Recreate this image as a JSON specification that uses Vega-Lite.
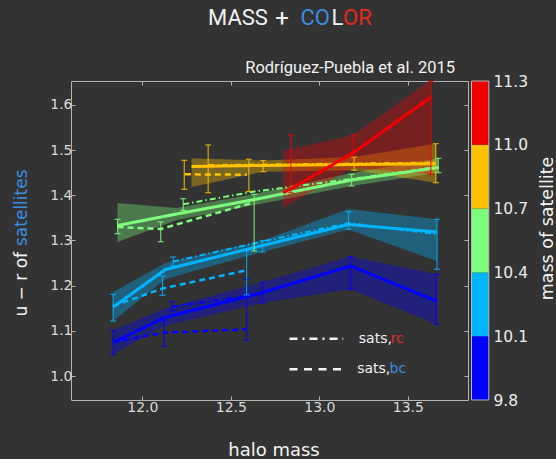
{
  "$schema": "https://vega.github.io/schema/vega-lite/v6.json",
  "width": 397,
  "height": 319,
  "padding": {"left": 12, "top": 6, "right": 0, "bottom": 0},
  "background": "#333333",
  "config": {"view": {"stroke": "#b4b4b4", "strokeWidth": 1}, "font": "DejaVu Sans"},
  "datasets": {
    "all": [
      {"m": "9.8-10.1", "x": 11.835, "y": 1.0743}, {"m": "9.8-10.1", "x": 12.125, "y": 1.1296}, {"m": "9.8-10.1", "x": 12.679, "y": 1.1849}, {"m": "9.8-10.1", "x": 13.175, "y": 1.2436}, {"m": "9.8-10.1", "x": 13.662, "y": 1.1661},
      {"m": "10.1-10.4", "x": 11.835, "y": 1.1528}, {"m": "10.1-10.4", "x": 12.131, "y": 1.2358}, {"m": "10.1-10.4", "x": 12.679, "y": 1.2889}, {"m": "10.1-10.4", "x": 13.165, "y": 1.3354}, {"m": "10.1-10.4", "x": 13.665, "y": 1.3188},
      {"m": "10.4-10.7", "x": 11.86, "y": 1.3332}, {"m": "10.4-10.7", "x": 12.193, "y": 1.3587}, {"m": "10.4-10.7", "x": 12.634, "y": 1.3908}, {"m": "10.4-10.7", "x": 13.182, "y": 1.4339}, {"m": "10.4-10.7", "x": 13.672, "y": 1.4616},
      {"m": "10.7-11.0", "x": 12.278, "y": 1.4638}, {"m": "10.7-11.0", "x": 12.683, "y": 1.466}, {"m": "10.7-11.0", "x": 13.197, "y": 1.4682}, {"m": "10.7-11.0", "x": 13.658, "y": 1.47},
      {"m": "11.0-11.3", "x": 12.796, "y": 1.4051}, {"m": "11.0-11.3", "x": 13.191, "y": 1.4943}, {"m": "11.0-11.3", "x": 13.63, "y": 1.6176}
    ],
    "bands": [
      {"m": "9.8-10.1", "x": 11.835, "lo": 1.048, "hi": 1.101}, {"m": "9.8-10.1", "x": 12.125, "lo": 1.1108, "hi": 1.1495}, {"m": "9.8-10.1", "x": 12.679, "lo": 1.1617, "hi": 1.2082}, {"m": "9.8-10.1", "x": 13.175, "lo": 1.192, "hi": 1.2646}, {"m": "9.8-10.1", "x": 13.662, "lo": 1.1145, "hi": 1.2252},
      {"m": "10.1-10.4", "x": 11.835, "lo": 1.1218, "hi": 1.186}, {"m": "10.1-10.4", "x": 12.131, "lo": 1.2148, "hi": 1.2502}, {"m": "10.1-10.4", "x": 12.679, "lo": 1.2746, "hi": 1.3}, {"m": "10.1-10.4", "x": 13.165, "lo": 1.3244, "hi": 1.3697}, {"m": "10.1-10.4", "x": 13.665, "lo": 1.2546, "hi": 1.3469},
      {"m": "10.4-10.7", "x": 11.86, "lo": 1.2967, "hi": 1.383}, {"m": "10.4-10.7", "x": 12.193, "lo": 1.3454, "hi": 1.3719}, {"m": "10.4-10.7", "x": 12.634, "lo": 1.3786, "hi": 1.4029}, {"m": "10.4-10.7", "x": 13.182, "lo": 1.4206, "hi": 1.4494}, {"m": "10.4-10.7", "x": 13.672, "lo": 1.4501, "hi": 1.4819},
      {"m": "10.7-11.0", "x": 12.278, "lo": 1.4184, "hi": 1.4819}, {"m": "10.7-11.0", "x": 12.683, "lo": 1.4523, "hi": 1.477}, {"m": "10.7-11.0", "x": 13.197, "lo": 1.4554, "hi": 1.4848}, {"m": "10.7-11.0", "x": 13.658, "lo": 1.4279, "hi": 1.5143},
      {"m": "11.0-11.3", "x": 12.796, "lo": 1.3726, "hi": 1.4981}, {"m": "11.0-11.3", "x": 13.191, "lo": 1.4611, "hi": 1.5335}, {"m": "11.0-11.3", "x": 13.63, "lo": 1.4465, "hi": 1.655}
    ],
    "rc": [
      {"m": "9.8-10.1", "x": 12.169, "y": 1.1539}, {"m": "9.8-10.1", "x": 12.589, "y": 1.1772}, {"m": "9.8-10.1", "x": 12.679, "y": 1.1849}, {"m": "9.8-10.1", "x": 13.175, "y": 1.2436}, {"m": "9.8-10.1", "x": 13.662, "y": 1.1661},
      {"m": "10.1-10.4", "x": 12.174, "y": 1.2535}, {"m": "10.1-10.4", "x": 12.679, "y": 1.2978}, {"m": "10.1-10.4", "x": 13.165, "y": 1.3387}, {"m": "10.1-10.4", "x": 13.665, "y": 1.3137},
      {"m": "10.4-10.7", "x": 12.231, "y": 1.3801}, {"m": "10.4-10.7", "x": 12.634, "y": 1.4085}, {"m": "10.4-10.7", "x": 13.182, "y": 1.436}, {"m": "10.4-10.7", "x": 13.672, "y": 1.463},
      {"m": "10.7-11.0", "x": 12.372, "y": 1.4671}, {"m": "10.7-11.0", "x": 12.683, "y": 1.4682}, {"m": "10.7-11.0", "x": 13.197, "y": 1.4704}, {"m": "10.7-11.0", "x": 13.658, "y": 1.4725},
      {"m": "11.0-11.3", "x": 12.796, "y": 1.4029}, {"m": "11.0-11.3", "x": 13.191, "y": 1.492}, {"m": "11.0-11.3", "x": 13.63, "y": 1.615}
    ],
    "bc": [
      {"m": "9.8-10.1", "x": 11.835, "y": 1.0754}, {"m": "9.8-10.1", "x": 12.124, "y": 1.096}, {"m": "9.8-10.1", "x": 12.589, "y": 1.1035},
      {"m": "10.1-10.4", "x": 11.835, "y": 1.155}, {"m": "10.1-10.4", "x": 12.114, "y": 1.1938}, {"m": "10.1-10.4", "x": 12.589, "y": 1.234},
      {"m": "10.4-10.7", "x": 11.86, "y": 1.3299}, {"m": "10.4-10.7", "x": 12.104, "y": 1.3255}, {"m": "10.4-10.7", "x": 12.628, "y": 1.3841},
      {"m": "10.7-11.0", "x": 12.24, "y": 1.4465}, {"m": "10.7-11.0", "x": 12.59, "y": 1.4456}
    ],
    "err": [
      {"m": "9.8-10.1", "x": 11.835, "lo": 1.048, "hi": 1.101}, {"m": "9.8-10.1", "x": 12.124, "lo": 1.0665, "hi": 1.1234}, {"m": "9.8-10.1", "x": 12.169, "lo": 1.144, "hi": 1.1646}, {"m": "9.8-10.1", "x": 12.589, "lo": 1.0791, "hi": 1.2141}, {"m": "9.8-10.1", "x": 12.679, "lo": 1.1617, "hi": 1.2082}, {"m": "9.8-10.1", "x": 13.175, "lo": 1.192, "hi": 1.2646}, {"m": "9.8-10.1", "x": 13.662, "lo": 1.1145, "hi": 1.2252},
      {"m": "10.1-10.4", "x": 11.835, "lo": 1.1218, "hi": 1.1809}, {"m": "10.1-10.4", "x": 12.114, "lo": 1.1787, "hi": 1.2214}, {"m": "10.1-10.4", "x": 12.174, "lo": 1.2436, "hi": 1.2635}, {"m": "10.1-10.4", "x": 12.589, "lo": 1.1794, "hi": 1.2768}, {"m": "10.1-10.4", "x": 12.679, "lo": 1.2746, "hi": 1.3}, {"m": "10.1-10.4", "x": 13.165, "lo": 1.3248, "hi": 1.3637}, {"m": "10.1-10.4", "x": 13.665, "lo": 1.2363, "hi": 1.3469},
      {"m": "10.4-10.7", "x": 11.86, "lo": 1.315, "hi": 1.3469}, {"m": "10.4-10.7", "x": 12.104, "lo": 1.2973, "hi": 1.341}, {"m": "10.4-10.7", "x": 12.231, "lo": 1.3668, "hi": 1.3925}, {"m": "10.4-10.7", "x": 12.632, "lo": 1.2768, "hi": 1.4023}, {"m": "10.4-10.7", "x": 13.182, "lo": 1.4206, "hi": 1.4465}, {"m": "10.4-10.7", "x": 13.672, "lo": 1.4501, "hi": 1.4819},
      {"m": "10.7-11.0", "x": 12.237, "lo": 1.4133, "hi": 1.4775}, {"m": "10.7-11.0", "x": 12.372, "lo": 1.4058, "hi": 1.5114}, {"m": "10.7-11.0", "x": 12.602, "lo": 1.4085, "hi": 1.4797}, {"m": "10.7-11.0", "x": 12.683, "lo": 1.4523, "hi": 1.477}, {"m": "10.7-11.0", "x": 13.197, "lo": 1.4554, "hi": 1.4848}, {"m": "10.7-11.0", "x": 13.658, "lo": 1.4279, "hi": 1.5143},
      {"m": "11.0-11.3", "x": 12.839, "lo": 1.4058, "hi": 1.5335}, {"m": "11.0-11.3", "x": 13.191, "lo": 1.4848, "hi": 1.5335}, {"m": "11.0-11.3", "x": 13.63, "lo": 1.4465, "hi": 1.652}
    ],
    "cbar": [
      {"m": "9.8-10.1", "lo": 9.8, "hi": 10.1}, {"m": "10.1-10.4", "lo": 10.1, "hi": 10.4}, {"m": "10.4-10.7", "lo": 10.4, "hi": 10.7}, {"m": "10.7-11.0", "lo": 10.7, "hi": 11.0}, {"m": "11.0-11.3", "lo": 11.0, "hi": 11.3}
    ]
  },
  "layer": [
    {
      "layer": [
        {
          "data": {"name": "bands"},
          "mark": {"type": "area", "opacity": 0.35, "clip": true},
          "encoding": {
            "x": {"field": "x", "type": "quantitative", "scale": {"domain": [11.597, 13.84], "nice": false, "zero": false},
              "axis": {"orient": "bottom", "values": [12, 12.5, 13, 13.5], "format": ".1f", "title": "halo mass", "grid": false, "domain": false, "labelFlush": false,
                "labelFont": "DejaVu Sans", "labelFontSize": 14, "labelColor": "#d9d9d9", "labelPadding": 4, "tickSize": -4, "tickColor": "#b4b4b4",
                "titleFont": "DejaVu Sans", "titleFontSize": 18, "titleFontWeight": "normal", "titleColor": "#f2f2f2", "titlePadding": 27, "titleX": 202.5}},
            "y": {"field": "lo", "type": "quantitative", "stack": null, "scale": {"domain": [0.947, 1.653], "nice": false, "zero": false},
              "axis": {"orient": "left", "values": [1.0, 1.1, 1.2, 1.3, 1.4, 1.5, 1.6], "format": ".1f", "title": null, "grid": false, "domain": false,
                "labelFont": "DejaVu Sans", "labelFontSize": 14, "labelColor": "#d9d9d9", "labelPadding": 3, "tickSize": -4, "tickColor": "#b4b4b4"}},
            "y2": {"field": "hi"},
            "color": {"field": "m", "type": "nominal", "legend": null,
              "scale": {"domain": ["9.8-10.1", "10.1-10.4", "10.4-10.7", "10.7-11.0", "11.0-11.3"], "range": ["#0000ff", "#00b4ff", "#7dff7d", "#ffc200", "#f20000"]}}
          }
        },
        {
          "data": {"name": "bc"},
          "mark": {"type": "line", "strokeWidth": 2.5, "strokeDash": [6, 4], "clip": true},
          "encoding": {
            "x": {"field": "x", "type": "quantitative",
              "axis": {"orient": "top", "values": [12, 12.5, 13, 13.5], "labels": false, "title": null, "grid": false, "domain": false, "tickSize": -4, "tickColor": "#b4b4b4"}},
            "y": {"field": "y", "type": "quantitative",
              "axis": {"orient": "right", "values": [1.0, 1.1, 1.2, 1.3, 1.4, 1.5, 1.6], "labels": false, "title": null, "grid": false, "domain": false, "tickSize": -4, "tickColor": "#b4b4b4"}},
            "color": {"field": "m", "type": "nominal", "legend": null}
          }
        },
        {
          "data": {"name": "rc"},
          "mark": {"type": "line", "strokeWidth": 2, "strokeDash": [6, 3, 1.5, 3], "clip": true},
          "encoding": {
            "x": {"field": "x", "type": "quantitative", "axis": null},
            "y": {"field": "y", "type": "quantitative", "axis": null},
            "color": {"field": "m", "type": "nominal", "legend": null}
          }
        },
        {
          "data": {"name": "all"},
          "mark": {"type": "line", "strokeWidth": 3, "clip": true},
          "encoding": {
            "x": {"field": "x", "type": "quantitative", "axis": null},
            "y": {"field": "y", "type": "quantitative", "axis": null},
            "color": {"field": "m", "type": "nominal", "legend": null}
          }
        },
        {
          "data": {"name": "err"},
          "mark": {"type": "errorbar", "ticks": true, "size": 6, "thickness": 1.2, "opacity": 0.8},
          "encoding": {
            "x": {"field": "x", "type": "quantitative", "axis": null},
            "y": {"field": "lo", "type": "quantitative", "axis": null},
            "y2": {"field": "hi"},
            "color": {"field": "m", "type": "nominal", "legend": null}
          }
        },
        {
          "data": {"values": [{}]},
          "mark": {"type": "rule", "color": "#f2f2f2", "strokeWidth": 2.5, "strokeDash": [8, 5, 2, 5]},
          "encoding": {
            "x": {"datum": 12.8315, "type": "quantitative", "axis": null}, "x2": {"datum": 13.1349},
            "y": {"datum": 1.0827, "type": "quantitative", "axis": null}
          }
        },
        {
          "data": {"values": [{}]},
          "mark": {"type": "rule", "color": "#f2f2f2", "strokeWidth": 2.5, "strokeDash": [8, 6.5]},
          "encoding": {
            "x": {"datum": 12.8315, "type": "quantitative", "axis": null}, "x2": {"datum": 13.1349},
            "y": {"datum": 1.0149, "type": "quantitative", "axis": null}
          }
        },
        {
          "data": {"values": [{}]},
          "mark": {"type": "text", "text": "sats,", "font": "DejaVu Sans", "fontSize": 14, "color": "#f2f2f2", "align": "left", "baseline": "middle"},
          "encoding": {"x": {"datum": 13.2231, "type": "quantitative", "axis": null}, "y": {"datum": 1.0827, "type": "quantitative", "axis": null}}
        },
        {
          "data": {"values": [{}]},
          "mark": {"type": "text", "text": "rc", "font": "DejaVu Sans", "fontSize": 14, "color": "#e8281e", "align": "left", "baseline": "middle"},
          "encoding": {"x": {"datum": 13.4022, "type": "quantitative", "axis": null}, "y": {"datum": 1.0827, "type": "quantitative", "axis": null}}
        },
        {
          "data": {"values": [{}]},
          "mark": {"type": "text", "text": "sats,", "font": "DejaVu Sans", "fontSize": 14, "color": "#f2f2f2", "align": "left", "baseline": "middle"},
          "encoding": {"x": {"datum": 13.214, "type": "quantitative", "axis": null}, "y": {"datum": 1.0149, "type": "quantitative", "axis": null}}
        },
        {
          "data": {"values": [{}]},
          "mark": {"type": "text", "text": "bc", "font": "DejaVu Sans", "fontSize": 14, "color": "#3a8ee0", "align": "left", "baseline": "middle"},
          "encoding": {"x": {"datum": 13.3965, "type": "quantitative", "axis": null}, "y": {"datum": 1.0149, "type": "quantitative", "axis": null}}
        },
        {
          "data": {"values": [{}]},
          "mark": {"type": "text", "text": "Rodríguez-Puebla et al. 2015", "font": "Roboto", "fontSize": 16.5, "color": "#f2f2f2", "align": "right", "baseline": "alphabetic"},
          "encoding": {"x": {"datum": 13.7666, "type": "quantitative", "axis": null}, "y": {"datum": 1.6707, "type": "quantitative", "axis": null}}
        },
        {
          "data": {"values": [{}]},
          "mark": {"type": "text", "text": "MASS", "font": "Roboto", "fontSize": 22, "color": "#f2f2f2", "align": "left", "baseline": "alphabetic"},
          "encoding": {"x": {"datum": 12.371, "type": "quantitative", "axis": null}, "y": {"datum": 1.777, "type": "quantitative", "axis": null}}
        },
        {
          "data": {"values": [{}]},
          "mark": {"type": "text", "text": "+", "font": "Roboto", "fontSize": 24, "color": "#f2f2f2", "align": "left", "baseline": "alphabetic"},
          "encoding": {"x": {"datum": 12.7513, "type": "quantitative", "axis": null}, "y": {"datum": 1.7737, "type": "quantitative", "axis": null}}
        },
        {
          "data": {"values": [{}]},
          "mark": {"type": "text", "text": "CO", "font": "Roboto", "fontSize": 22, "color": "#3a8ee0", "align": "left", "baseline": "alphabetic"},
          "encoding": {"x": {"datum": 12.8937, "type": "quantitative", "axis": null}, "y": {"datum": 1.777, "type": "quantitative", "axis": null}}
        },
        {
          "data": {"values": [{}]},
          "mark": {"type": "text", "text": "L", "font": "Roboto", "fontSize": 22, "color": "#f2f2f2", "align": "left", "baseline": "alphabetic"},
          "encoding": {"x": {"datum": 13.0688, "type": "quantitative", "axis": null}, "y": {"datum": 1.777, "type": "quantitative", "axis": null}}
        },
        {
          "data": {"values": [{}]},
          "mark": {"type": "text", "text": "OR", "font": "Roboto", "fontSize": 22, "color": "#e8281e", "align": "left", "baseline": "alphabetic"},
          "encoding": {"x": {"datum": 13.1338, "type": "quantitative", "axis": null}, "y": {"datum": 1.777, "type": "quantitative", "axis": null}}
        },
        {
          "data": {"values": [{}]},
          "mark": {"type": "text", "text": "satellites", "font": "DejaVu Sans", "fontSize": 17, "color": "#3a8ee0", "align": "left", "baseline": "middle", "angle": 270},
          "encoding": {"x": {"datum": 11.3185, "type": "quantitative", "axis": null}, "y": {"datum": 1.2878, "type": "quantitative", "axis": null}}
        },
        {
          "data": {"values": [{}]},
          "mark": {"type": "text", "text": "u − r of", "font": "DejaVu Sans", "fontSize": 17, "color": "#f2f2f2", "align": "right", "baseline": "middle", "angle": 270},
          "encoding": {"x": {"datum": 11.3185, "type": "quantitative", "axis": null}, "y": {"datum": 1.2746, "type": "quantitative", "axis": null}}
        }
      ],
      "resolve": {"axis": {"x": "independent", "y": "independent"}}
    },
    {
      "layer": [
        {
          "data": {"name": "cbar"},
          "mark": {"type": "rect"},
          "encoding": {
            "x": {"datum": 13.8598, "type": "quantitative", "axis": null}, "x2": {"datum": 13.9576},
            "y": {"field": "lo", "type": "quantitative", "scale": {"domain": [9.8, 11.3], "nice": false, "zero": false},
              "axis": {"orient": "right", "offset": 21, "values": [9.8, 10.1, 10.4, 10.7, 11.0, 11.3], "format": ".1f", "ticks": false, "domain": false, "grid": false,
                "labelFont": "DejaVu Sans", "labelFontSize": 15.5, "labelColor": "#ececec", "labelPadding": 4,
                "title": "mass of satellite", "titleAngle": 270, "titleBaseline": "top", "titleY": 147, "titleFont": "DejaVu Sans", "titleFontSize": 17.5, "titleFontWeight": "normal", "titleColor": "#f2f2f2", "titlePadding": 11}},
            "y2": {"field": "hi"},
            "color": {"field": "m", "type": "nominal", "legend": null}
          }
        },
        {
          "data": {"values": [{}]},
          "mark": {"type": "rect", "fillOpacity": 0, "stroke": "#b4b4b4", "strokeWidth": 1},
          "encoding": {
            "x": {"datum": 13.8598, "type": "quantitative", "axis": null}, "x2": {"datum": 13.9576},
            "y": {"datum": 9.8, "type": "quantitative", "axis": null}, "y2": {"datum": 11.3}
          }
        }
      ],
      "resolve": {"axis": {"x": "independent", "y": "independent"}}
    }
  ],
  "resolve": {"scale": {"y": "independent"}, "axis": {"x": "independent", "y": "independent"}}
}
